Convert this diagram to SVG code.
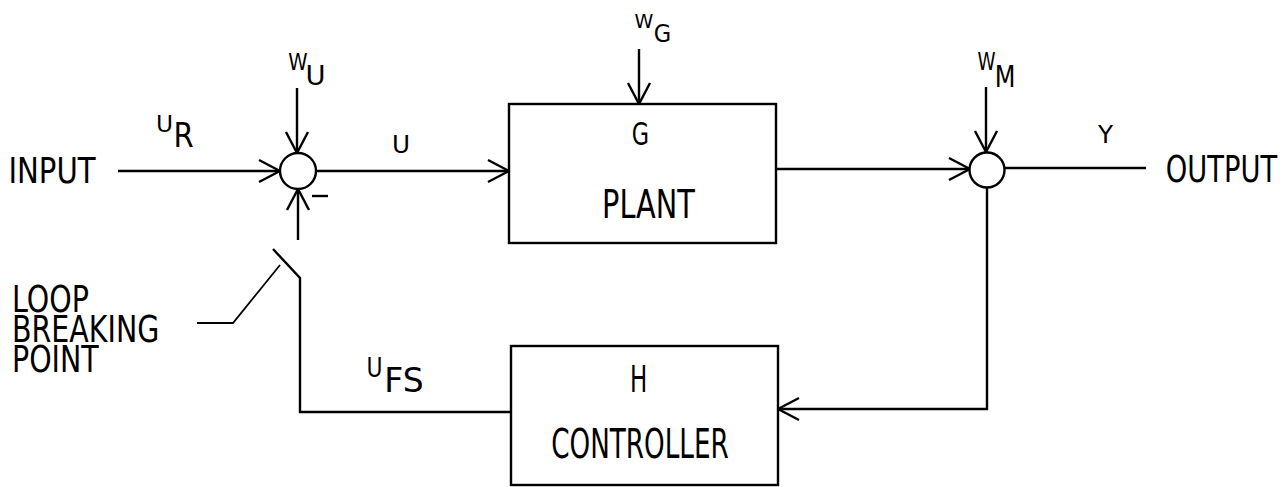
<svg xmlns="http://www.w3.org/2000/svg" width="1288" height="487" viewBox="0 0 1288 487">
<style>
.ln{fill:none;stroke:#000;stroke-width:2.4;stroke-linejoin:miter}
.thin{fill:none;stroke:#000;stroke-width:1.8}
.bx{fill:#fff;stroke:#000;stroke-width:2.4}
text{font-family:"DejaVu Sans",sans-serif;fill:#000;text-anchor:middle}
.ls{text-anchor:start}
</style>
<defs>
<marker id="ah" viewBox="-23 -13 25 26" refX="0" refY="0" markerWidth="25" markerHeight="26" markerUnits="userSpaceOnUse" orient="auto">
<path d="M-21,-11 L0,0 L-21,11" fill="none" stroke="#000" stroke-width="2.4"/>
</marker>
</defs>
<rect width="1288" height="487" fill="#fff"/>
<g id="connectors">
<line class="ln" x1="118" y1="171" x2="280" y2="171" marker-end="url(#ah)"/>
<line class="ln" x1="297" y1="88" x2="297" y2="153" marker-end="url(#ah)"/>
<line class="ln" x1="298" y1="240" x2="298" y2="189" marker-end="url(#ah)"/>
<line class="ln" x1="316" y1="171" x2="509" y2="171" marker-end="url(#ah)"/>
<line class="ln" x1="639" y1="49" x2="639" y2="104" marker-end="url(#ah)"/>
<line class="ln" x1="776" y1="169" x2="970" y2="169" marker-end="url(#ah)"/>
<line class="ln" x1="986" y1="87" x2="986" y2="152" marker-end="url(#ah)"/>
<line class="ln" x1="1004" y1="168" x2="1146" y2="168"/>
<polyline class="ln" points="987,187 987,409 778,409" marker-end="url(#ah)"/>
<polyline class="ln" points="511,412 300,412 300,278 273,249"/>
<polyline class="thin" points="197,323 233,323 280,265"/>
<line class="ln" x1="312" y1="196" x2="328" y2="196" stroke-width="2.6"/>
</g>
<g id="sum1"><circle class="bx" cx="298" cy="171" r="18"/></g>
<g id="sum2"><circle class="bx" cx="987" cy="170" r="17.5"/></g>
<g id="plant">
<rect class="bx" x="509" y="104" width="267" height="139"/>
<text transform="translate(640.5,145) scale(0.71,1)" font-size="31.5">G</text>
<text transform="translate(648.5,218) scale(0.75,1)" font-size="38.4">PLANT</text>
</g>
<g id="controller">
<rect class="bx" x="511" y="346" width="267" height="139"/>
<text transform="translate(638.5,392) scale(0.62,1)" font-size="37">H</text>
<text transform="translate(640,458) scale(0.64,1)" font-size="41">CONTROLLER</text>
</g>
<g id="labels">
<text transform="translate(52,183) scale(0.81,1)" font-size="36">INPUT</text>
<text transform="translate(1221.5,182) scale(0.74,1)" font-size="37">OUTPUT</text>
<text transform="translate(164.5,132) scale(1,1)" font-size="23.3">U</text>
<text transform="translate(183.5,147) scale(0.88,1)" font-size="33">R</text>
<text transform="translate(298,70) scale(0.84,1)" font-size="23.3">W</text>
<text transform="translate(315.5,85) scale(1,1)" font-size="27.4">U</text>
<text transform="translate(401,153) scale(1,1)" font-size="24.7">U</text>
<text transform="translate(644,28) scale(1,1)" font-size="19">W</text>
<text transform="translate(662.5,42) scale(0.9,1)" font-size="25">G</text>
<text transform="translate(986.5,70) scale(0.74,1)" font-size="24.7">W</text>
<text transform="translate(1005,87) scale(0.8,1)" font-size="30">M</text>
<text transform="translate(1105.5,143) scale(1,1)" font-size="24.7">Y</text>
<text transform="translate(374.5,377) scale(0.8,1)" font-size="27.4">U</text>
<text transform="translate(404,392) scale(0.97,1)" font-size="34">FS</text>
<text class="ls" transform="scale(0.75,1)" font-size="38"><tspan x="16" y="312">LOOP</tspan><tspan x="16" y="342">BREAKING</tspan><tspan x="16" y="372">POINT</tspan></text>
</g>
</svg>
